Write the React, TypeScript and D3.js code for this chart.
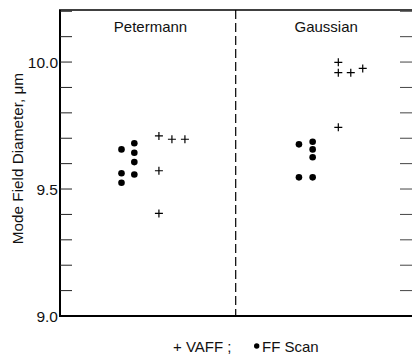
import { useEffect, useRef } from "react";
import * as d3 from "d3";

// panels (methods) and tick values
const panels = ["Petermann", "Gaussian"];
const yTicks = [9.0, 9.1, 9.2, 9.3, 9.4, 9.5, 9.6, 9.7, 9.8, 9.9, 10.0, 10.1, 10.2];
const yLabelTicks = [9.0, 9.5, 10.0];

// FF Scan points: panel index, offset within panel, value (µm)
const ffPanel = [0, 0, 0, 0, 0, 0, 0, 1, 1, 1, 1, 1, 1];
const ffOffset = [0.35, 0.35, 0.35, 0.423, 0.423, 0.423, 0.423, 0.36, 0.36, 0.438, 0.438, 0.438, 0.438];
const ffValue = [9.656, 9.562, 9.525, 9.68, 9.643, 9.606, 9.557, 9.676, 9.546, 9.686, 9.656, 9.625, 9.546];

// VAFF points
const vaPanel = [0, 0, 0, 0, 0, 1, 1, 1, 1, 1];
const vaOffset = [0.563, 0.637, 0.711, 0.563, 0.563, 0.584, 0.584, 0.655, 0.723, 0.584];
const vaValue = [9.709, 9.696, 9.696, 9.572, 9.404, 9.999, 9.958, 9.958, 9.975, 9.743];

const W = 412;
const H = 356;
const font = "'Liberation Sans', Arial, sans-serif";

export default function App() {
  const ref = useRef<SVGSVGElement | null>(null);

  useEffect(() => {
    if (!ref.current) return;
    const svg = d3.select(ref.current);
    svg.selectAll("*").remove();

    const x = d3.scaleLinear().domain([0, 2]).range([60, 411.4]);
    const y = d3.scaleLinear().domain([9.0, 10.205]).range([316, 10]);

    const g = svg.append("g");

    // frame: left, top, bottom (right edge is cropped off)
    g.append("line")
      .attr("x1", x(0)).attr("x2", x(0))
      .attr("y1", y.range()[1]).attr("y2", y.range()[0])
      .attr("stroke", "#000").attr("stroke-width", 2);
    g.append("line")
      .attr("x1", x(0) - 1).attr("x2", W)
      .attr("y1", y.range()[1]).attr("y2", y.range()[1])
      .attr("stroke", "#000").attr("stroke-width", 1.6);
    g.append("line")
      .attr("x1", x(0) - 1).attr("x2", W)
      .attr("y1", y.range()[0]).attr("y2", y.range()[0])
      .attr("stroke", "#000").attr("stroke-width", 2);

    // panel divider
    g.append("line")
      .attr("x1", x(1)).attr("x2", x(1))
      .attr("y1", y.range()[1]).attr("y2", y.range()[0])
      .attr("stroke", "#000").attr("stroke-width", 1.2)
      .attr("stroke-dasharray", "9,4");

    // ticks, both sides pointing inward
    const ticks = yTicks.filter((t) => t > 9.0);
    g.append("g")
      .selectAll("line")
      .data(ticks)
      .join("line")
      .attr("x1", x(0)).attr("x2", x(0) + 12)
      .attr("y1", (d) => y(d)).attr("y2", (d) => y(d))
      .attr("stroke", "#222").attr("stroke-width", 1);
    g.append("g")
      .selectAll("line")
      .data(ticks)
      .join("line")
      .attr("x1", W - 12).attr("x2", W)
      .attr("y1", (d) => y(d)).attr("y2", (d) => y(d))
      .attr("stroke", "#444").attr("stroke-width", 1);

    g.append("g")
      .selectAll("text")
      .data(yLabelTicks)
      .join("text")
      .attr("x", x(0) - 2)
      .attr("y", (d) => y(d) + 5.5)
      .attr("text-anchor", "end")
      .attr("font-family", font)
      .attr("font-size", 15.5)
      .attr("fill", "#111")
      .text((d) => d.toFixed(1));

    // y label
    g.append("text")
      .attr("transform", `translate(22.5,${y(9.62)}) rotate(-90)`)
      .attr("text-anchor", "middle")
      .attr("font-family", font)
      .attr("font-size", 15.3)
      .attr("fill", "#111")
      .text("Mode Field Diameter, \u03bcm");

    // panel titles
    g.append("g")
      .selectAll("text")
      .data(panels)
      .join("text")
      .attr("x", (_, i) => x(i + 0.515))
      .attr("y", 31.5)
      .attr("text-anchor", "middle")
      .attr("font-family", font)
      .attr("font-size", 15)
      .attr("fill", "#111")
      .text((d) => d);

    // FF Scan dots
    g.append("g")
      .selectAll("circle")
      .data(ffValue.map((v, i) => ({ p: ffPanel[i], o: ffOffset[i], v })))
      .join("circle")
      .attr("cx", (d) => x(d.p + d.o))
      .attr("cy", (d) => y(d.v))
      .attr("r", 3.3)
      .attr("fill", "#000");

    // VAFF crosses
    g.append("g")
      .selectAll("path")
      .data(vaValue.map((v, i) => ({ p: vaPanel[i], o: vaOffset[i], v })))
      .join("path")
      .attr("d", (d) => {
        const cx = x(d.p + d.o);
        const cy = y(d.v);
        return `M${cx - 4},${cy}H${cx + 4}M${cx},${cy - 4}V${cy + 4}`;
      })
      .attr("stroke", "#000")
      .attr("stroke-width", 1.2)
      .attr("fill", "none");

    // legend
    g.append("text")
      .attr("x", 173)
      .attr("y", 351.5)
      .attr("font-family", font)
      .attr("font-size", 15)
      .attr("fill", "#111")
      .text("+ VAFF ;");
    g.append("circle").attr("cx", 256.7).attr("cy", 346).attr("r", 2.7).attr("fill", "#000");
    g.append("text")
      .attr("x", 262)
      .attr("y", 351.5)
      .attr("font-family", font)
      .attr("font-size", 15)
      .attr("fill", "#111")
      .text("FF Scan");
  }, []);

  return (
    <svg
      ref={ref}
      width={W}
      height={H}
      style={{ position: "absolute", left: 0, top: 0, background: "#fff" }}
    />
  );
}
